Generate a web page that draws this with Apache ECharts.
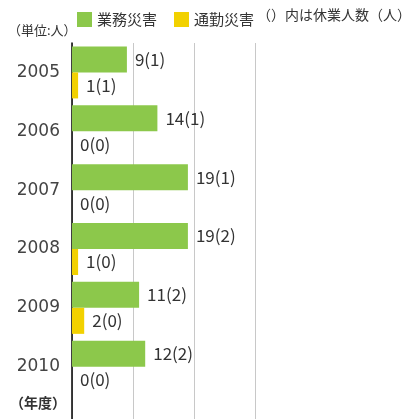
<!DOCTYPE html>
<html>
<head>
<meta charset="utf-8">
<script src="https://cdn.jsdelivr.net/npm/echarts@6/dist/echarts.min.js"></script>
<style>
  html, body { margin: 0; padding: 0; background: #fff; }
  #chart { width: 411px; height: 419px; }
</style>
</head>
<body>
<div id="chart"></div>
<script>
// 年度
var years = ['2005', '2006', '2007', '2008', '2009', '2010'];
// 業務災害 / 通勤災害 (人)
var workAccidents = [9, 14, 19, 19, 11, 12];
var commuteAccidents = [1, 0, 0, 1, 2, 0];
// ()内は休業人数
var workLost = [1, 1, 1, 2, 2, 2];
var commuteLost = [1, 0, 0, 0, 0, 0];

var GREEN = '#8cc84b';
var YELLOW = '#f2d100';
var FONT = 'Noto Sans CJK JP';

var myChart = echarts.init(document.getElementById('chart'));

var labelStyle = {
    show: true,
    position: 'right',
    distance: 8,
    fontFamily: FONT,
    fontSize: 17,
    color: '#333'
};

var option = {
    animation: false,
    textStyle: { fontFamily: FONT },
    legend: {
        left: 72,
        top: 7,
        itemWidth: 15,
        itemHeight: 15,
        itemGap: 17,
        icon: 'rect',
        textStyle: { fontSize: 15, color: '#333', fontFamily: FONT },
        data: ['業務災害', '通勤災害']
    },
    graphic: [
        { type: 'text', left: 257, top: 8, style: { text: '（）内は休業人数（人）', font: '14px "Noto Sans CJK JP"', fill: '#333' } },
        { type: 'text', left: 8, top: 24, style: { text: '（単位:人）', font: '13px "Noto Sans CJK JP"', fill: '#333' } },
        { type: 'text', left: 10, top: 396, style: { text: '（年度）', font: 'bold 14px "Noto Sans CJK JP"', fill: '#333' } }
    ],
    grid: {
        left: 72,
        width: 183,
        top: 43,
        height: 412,
        outerBoundsMode: 'none'
    },
    xAxis: {
        type: 'value',
        min: 0,
        max: 30,
        interval: 10,
        axisLabel: { show: false },
        axisLine: { show: false },
        axisTick: { show: false },
        splitLine: { lineStyle: { color: '#c8c8c8', width: 1 } }
    },
    yAxis: {
        type: 'category',
        inverse: true,
        data: years.concat(['']),
        axisTick: { show: false },
        axisLine: { lineStyle: { color: '#000', width: 1.5 } },
        axisLabel: {
            margin: 12,
            fontFamily: 'DejaVu Sans',
            fontSize: 17,
            color: '#444'
        }
    },
    series: [
        {
            name: '業務災害',
            type: 'bar',
            barWidth: 26,
            barGap: '0%',
            itemStyle: { color: GREEN },
            label: Object.assign({}, labelStyle, {
                formatter: function (p) { return p.value + '(' + workLost[p.dataIndex] + ')'; }
            }),
            data: workAccidents
        },
        {
            name: '通勤災害',
            type: 'bar',
            barWidth: 26,
            barGap: '0%',
            itemStyle: { color: YELLOW },
            label: Object.assign({}, labelStyle, {
                formatter: function (p) { return p.value + '(' + commuteLost[p.dataIndex] + ')'; }
            }),
            data: commuteAccidents
        }
    ]
};

myChart.setOption(option);
</script>
</body>
</html>
